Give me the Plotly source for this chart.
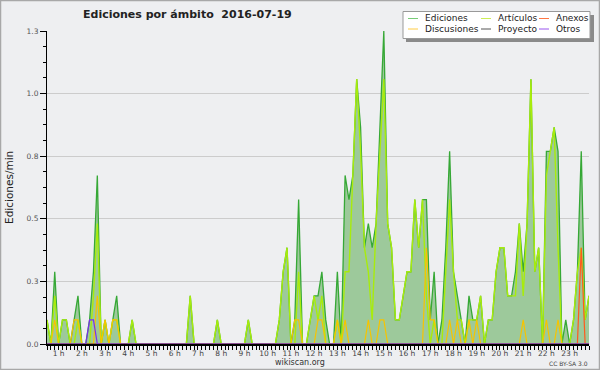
import plotly.graph_objects as go

# 10-minute slots starting at 00:00 (slot index)
slots = list(range(141))

ediciones = [0.1, 0, 0.3, 0, 0.1, 0.1, 0, 0.1, 0.2, 0,
             0, 0.1, 0.3, 0.7, 0, 0.1, 0, 0.1, 0.2, 0,
             0, 0, 0.1, 0, 0, 0, 0, 0, 0, 0,
             0, 0, 0, 0, 0, 0, 0, 0.2, 0, 0,
             0, 0, 0, 0, 0.1, 0, 0, 0, 0, 0,
             0, 0, 0.1, 0, 0, 0, 0, 0, 0, 0,
             0.1, 0.3, 0.4, 0, 0.1, 0.6, 0, 0, 0.1, 0.2,
             0.2, 0.3, 0.1, 0, 0, 0.3, 0, 0.7, 0.6, 0.7,
             1.1, 0.9, 0.4, 0.5, 0.4, 0.5, 0.9, 1.3, 0.5, 0.4,
             0.1, 0.1, 0.2, 0.3, 0.3, 0.6, 0.4, 0.6, 0.6, 0.1,
             0.3, 0, 0.1, 0.4, 0.8, 0.3, 0.2, 0.1, 0, 0.2,
             0.1, 0.1, 0.2, 0, 0.1, 0.1, 0.3, 0.4, 0.4, 0.2,
             0.2, 0.3, 0.5, 0.3, 0.5, 1.1, 0.3, 0.4, 0, 0.8,
             0.8, 0.9, 0.8, 0, 0.1, 0, 0.1, 0.3, 0.8, 0.1,
             0.2]

articulos = [0.1, 0, 0.2, 0, 0.1, 0.1, 0, 0, 0.1, 0,
             0, 0, 0.2, 0.5, 0, 0.1, 0, 0.1, 0.1, 0,
             0, 0, 0.1, 0, 0, 0, 0, 0, 0, 0,
             0, 0, 0, 0, 0, 0, 0, 0.2, 0, 0,
             0, 0, 0, 0, 0.1, 0, 0, 0, 0, 0,
             0, 0, 0.1, 0, 0, 0, 0, 0, 0, 0,
             0.1, 0.3, 0.4, 0, 0, 0.3, 0, 0, 0.1, 0.2,
             0.1, 0.2, 0, 0, 0, 0.1, 0, 0.3, 0.3, 0.7,
             1.1, 0.8, 0.4, 0.3, 0.1, 0.5, 0.8, 1.1, 0.5, 0.4,
             0.1, 0.1, 0.2, 0.3, 0.3, 0.6, 0.4, 0.6, 0.2, 0,
             0.1, 0, 0, 0.3, 0.6, 0.3, 0.1, 0.1, 0, 0.1,
             0.1, 0.1, 0.2, 0, 0.1, 0.1, 0.3, 0.4, 0.4, 0.2,
             0.2, 0.2, 0.5, 0.2, 0.5, 1.1, 0.3, 0.4, 0, 0.7,
             0.8, 0.9, 0.4, 0, 0, 0, 0.1, 0.3, 0.4, 0.1,
             0.2]

discusiones = [0, 0, 0.1, 0, 0, 0, 0, 0.1, 0.1, 0,
               0, 0, 0, 0.2, 0, 0.1, 0, 0.1, 0.1, 0,
               0, 0, 0, 0, 0, 0, 0, 0, 0, 0,
               0, 0, 0, 0, 0, 0, 0, 0, 0, 0,
               0, 0, 0, 0, 0, 0, 0, 0, 0, 0,
               0, 0, 0, 0, 0, 0, 0, 0, 0, 0,
               0, 0, 0, 0, 0.1, 0.1, 0, 0, 0, 0,
               0.1, 0.1, 0, 0, 0, 0.1, 0, 0.1, 0, 0,
               0, 0, 0, 0.1, 0, 0, 0.1, 0.1, 0, 0,
               0, 0, 0, 0, 0, 0, 0, 0, 0.4, 0.1,
               0.1, 0, 0, 0, 0.1, 0, 0.1, 0, 0, 0.1,
               0, 0.1, 0, 0, 0, 0, 0, 0, 0, 0,
               0, 0, 0, 0.1, 0, 0, 0, 0, 0, 0.1,
               0, 0, 0.1, 0, 0, 0, 0, 0, 0, 0,
               0]

anexos = [0] * 138 + [0.4, 0, 0]
proyecto = [0] * 141
otros = [0] * 11 + [0.1, 0.1] + [0] * 128

hour_ticks = [0.5, 1.5, 2.5, 3.5, 4.5, 5.5, 6.5, 7.5, 8.5, 9.5, 10.5, 11.5,
              12.5, 13.5, 14.5, 15.5, 16.5, 17.5, 18.5, 19.5, 20.5, 21.5, 22.5]
hour_labels = ["1 h", "2 h", "3 h", "4 h", "5 h", "6 h", "7 h", "8 h", "9 h",
               "10 h", "11 h", "12 h", "13 h", "14 h", "15 h", "16 h", "17 h",
               "18 h", "19 h", "20 h", "21 h", "22 h", "23 h"]
y_ticks = [0, 0.26, 0.52, 0.78, 1.04, 1.3]
y_labels = ["0.0", "0.3", "0.5", "0.8", "1.0", "1.3"]

hours = [s / 6 for s in slots]

FONT = "DejaVu Sans"
fig = go.Figure()
fig.add_trace(go.Scatter(x=hours, y=ediciones, name="Ediciones", mode="lines",
                         line=dict(color="#36a836", width=1.3),
                         fill="tozeroy", fillcolor="#9dc99b"))
fig.add_trace(go.Scatter(x=hours, y=articulos, name="Artículos", mode="lines",
                         line=dict(color="#a8ec0c", width=1.4)))
fig.add_trace(go.Scatter(x=hours, y=discusiones, name="Discusiones", mode="lines",
                         line=dict(color="#f7c400", width=1.2)))
fig.add_trace(go.Scatter(x=hours, y=anexos, name="Anexos", mode="lines",
                         line=dict(color="#ff5a1e", width=1.2)))
fig.add_trace(go.Scatter(x=hours, y=proyecto, name="Proyecto", mode="lines",
                         line=dict(color="#555555", width=1)))
fig.add_trace(go.Scatter(x=hours, y=otros, name="Otros", mode="lines",
                         line=dict(color="#7b2ff0", width=1.2)))

PL, PR, PT, PB = 47, 589, 31, 344
W, H = PR - PL, PB - PT


def px(x):
    return (x - PL) / W


def py(y):
    return (PB - y) / H


shapes = []
annotations = []
# figure frame
shapes.append(dict(type="rect", xref="paper", yref="paper",
                   x0=px(0.5), x1=px(599.5), y0=py(0.5), y1=py(369.5),
                   line=dict(color="#a8a8a8", width=1.5)))
# legend box with shadow
shapes.append(dict(type="rect", xref="paper", yref="paper",
                   x0=px(406), x1=px(594), y0=py(15), y1=py(42),
                   fillcolor="#8a8a8a", line=dict(width=0)))
shapes.append(dict(type="rect", xref="paper", yref="paper",
                   x0=px(403), x1=px(590), y0=py(11.5), y1=py(38.5),
                   fillcolor="white", line=dict(color="#999999", width=1)))
legend_items = [
    ("Ediciones", "#77cc77", 408, 18.5),
    ("Artículos", "#ccee55", 481, 18.5),
    ("Anexos", "#ff7744", 539, 18.5),
    ("Discusiones", "#ffcc44", 408, 29),
    ("Proyecto", "#555555", 481, 29),
    ("Otros", "#9955ee", 539, 29),
]
for name, col, lx, ly in legend_items:
    shapes.append(dict(type="line", xref="paper", yref="paper",
                       x0=px(lx), x1=px(lx + 10), y0=py(ly), y1=py(ly),
                       line=dict(color=col, width=1)))
    annotations.append(dict(xref="paper", yref="paper", x=px(lx + 15), y=py(ly),
                            text=name, showarrow=False, xanchor="left",
                            yanchor="middle",
                            font=dict(family=FONT, size=9, color="#222222")))

annotations.append(dict(xref="paper", yref="paper", x=px(188), y=py(14),
                        text="<b>Ediciones por ámbito\u00a0\u00a02016-07-19</b>",
                        showarrow=False, xanchor="center", yanchor="middle",
                        font=dict(family=FONT, size=11, color="#222222")))
annotations.append(dict(xref="paper", yref="paper", x=px(9), y=py(188),
                        text="Ediciones/min", textangle=-90, showarrow=False,
                        xanchor="center", yanchor="middle",
                        font=dict(family=FONT, size=10.5, color="#222222")))
annotations.append(dict(xref="paper", yref="paper", x=px(300), y=py(362),
                        text="wikiscan.org", showarrow=False,
                        xanchor="center", yanchor="middle",
                        font=dict(family=FONT, size=8, color="#333333")))
annotations.append(dict(xref="paper", yref="paper", x=px(590), y=py(363),
                        text="CC BY-SA 3.0", showarrow=False,
                        xanchor="right", yanchor="middle",
                        font=dict(family=FONT, size=6, color="#444444")))

fig.update_layout(
    width=600, height=370, autosize=False,
    margin=dict(l=PL, r=600 - PR, t=PT, b=370 - PB),
    paper_bgcolor="#eeeff1", plot_bgcolor="#eeeff1",
    showlegend=False,
    shapes=shapes, annotations=annotations,
    font=dict(family=FONT),
    xaxis=dict(range=[0, 140 / 6], tickvals=hour_ticks, ticktext=hour_labels,
               showgrid=False, zeroline=False, showline=True,
               linecolor="black", linewidth=2, ticks="outside", ticklen=1,
               tickcolor="black", tickwidth=1,
               tickfont=dict(family=FONT, size=7.5, color="#444444"),
               minor=dict(dtick=1 / 6, tick0=0, ticks="outside", ticklen=4,
                          tickcolor="black", showgrid=False)),
    yaxis=dict(range=[0, 1.3], tickvals=y_ticks, ticktext=y_labels,
               showgrid=True, gridcolor="#cccccc", gridwidth=1,
               zeroline=False, showline=True, linecolor="black", linewidth=1,
               ticks="outside", ticklen=6, tickcolor="black",
               tickfont=dict(family=FONT, size=7.5, color="#555555"),
               minor=dict(dtick=0.065, tick0=0, ticks="outside", ticklen=3,
                          tickcolor="black", showgrid=False)),
)

fig.write_html("out.html", config={"displayModeBar": False},
               post_script="document.body.style.margin='0px';"
                           "document.body.style.overflow='hidden';")
